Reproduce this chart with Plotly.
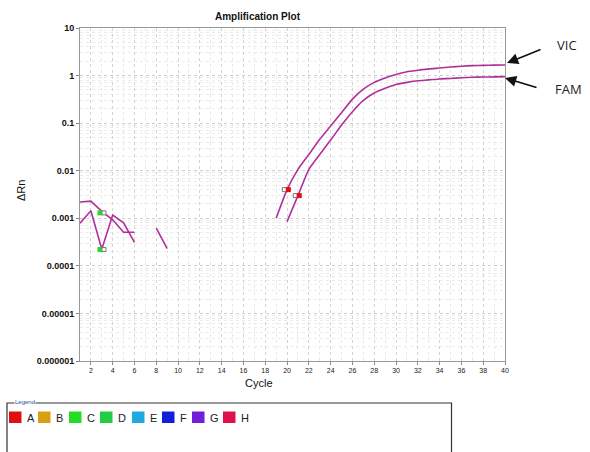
import plotly.graph_objects as go

# ---------------- data ----------------
vic_cycles = list(range(19, 41))
vic_values = [0.001, 0.004, 0.0107, 0.022, 0.046, 0.087, 0.166, 0.32, 0.52, 0.72, 0.89,
              1.05, 1.2, 1.29, 1.38, 1.44, 1.51, 1.57, 1.62, 1.64, 1.66, 1.67]

fam_cycles = list(range(20, 41))
fam_values = [0.00085, 0.003, 0.0107, 0.022, 0.044, 0.091, 0.174, 0.30, 0.43, 0.54, 0.65,
              0.72, 0.78, 0.81, 0.85, 0.87, 0.90, 0.92, 0.93, 0.94, 0.95]

noise1_cycles = [1, 2, 3, 4, 5, 6]
noise1_values = [0.0022, 0.0023, 0.0014, 0.00093, 0.00051, 0.00051]
noise2_cycles = [1, 2, 3, 4, 5, 6]
noise2_values = [0.00079, 0.00144, 0.000224, 0.00117, 0.00080, 0.00031]
noise3_cycles = [8, 9]
noise3_values = [0.00062, 0.00023]

green_ct_cycles = [3, 3]
green_ct_values = [0.0013, 0.00022]
red_ct_cycles = [20, 21]
red_ct_values = [0.004, 0.003]

x_ticks = list(range(2, 41, 2))
y_tickvals = [10, 1, 0.1, 0.01, 0.001, 0.0001, 0.00001, 0.000001]
y_ticktext = ["10", "1", "0.1", "0.01", "0.001", "0.0001", "0.00001", "0.000001"]

legend_labels = ["A", "B", "C", "D", "E", "F", "G", "H"]
legend_colors = ["#e01010", "#d8a010", "#22dd22", "#22cc44", "#20a8e0", "#1020d8", "#7020d8", "#e0104a"]

# ---------------- layout helpers ----------------
W, H = 590, 452
L, R, T, B = 80, 505, 28, 361
def px(x):
    return (x - L) / (R - L)
def py(y):
    return (B - y) / (B - T)

LINE = "#b0309a"
FONT = "Liberation Sans, Arial, sans-serif"

fig = go.Figure()

for xs, ys in [(noise1_cycles, noise1_values), (noise2_cycles, noise2_values),
               (noise3_cycles, noise3_values)]:
    fig.add_trace(go.Scatter(x=xs, y=ys, mode="lines", line=dict(color=LINE, width=1.6),
                             hoverinfo="skip", showlegend=False))
for xs, ys in [(vic_cycles, vic_values), (fam_cycles, fam_values)]:
    fig.add_trace(go.Scatter(x=xs, y=ys, mode="lines",
                             line=dict(color=LINE, width=1.6, shape="spline", smoothing=0.5),
                             hoverinfo="skip", showlegend=False))

# Ct markers: coloured square with small white square beside it
fig.add_trace(go.Scatter(x=[c - 0.17 for c in green_ct_cycles], y=green_ct_values, mode="markers",
                         marker=dict(symbol="square", size=5, color="#22dd22", line=dict(width=0)),
                         showlegend=False, hoverinfo="skip"))
fig.add_trace(go.Scatter(x=[c + 0.2 for c in green_ct_cycles], y=green_ct_values, mode="markers",
                         marker=dict(symbol="square", size=4, color="white", line=dict(width=1, color="#777")),
                         showlegend=False, hoverinfo="skip"))
fig.add_trace(go.Scatter(x=[c - 0.25 for c in red_ct_cycles], y=red_ct_values, mode="markers",
                         marker=dict(symbol="square", size=4, color="white", line=dict(width=1, color="#777")),
                         showlegend=False, hoverinfo="skip"))
fig.add_trace(go.Scatter(x=[c + 0.12 for c in red_ct_cycles], y=red_ct_values, mode="markers",
                         marker=dict(symbol="square", size=5, color="#e01010", line=dict(width=0)),
                         showlegend=False, hoverinfo="skip"))

fig.update_layout(
    width=W, height=H,
    margin=dict(l=L, r=W - R, t=T, b=H - B),
    paper_bgcolor="white", plot_bgcolor="white",
    font=dict(family=FONT, color="#111"),
    xaxis=dict(range=[1, 40], tickvals=x_ticks, tickfont=dict(size=7, family=FONT, color="#222"),
               ticks="outside", ticklen=3, tickcolor="#888",
               showline=True, linecolor="#999", linewidth=1, mirror=True,
               showgrid=True, gridcolor="#d4d4d4", griddash="dot", gridwidth=1,
               minor=dict(dtick=1, showgrid=True, gridcolor="#e8e8e8", griddash="dot"),
               zeroline=False),
    yaxis=dict(type="log", range=[-6, 1], tickvals=y_tickvals, ticktext=y_ticktext,
               tickfont=dict(size=9, family="Liberation Sans, Arial", color="#111", weight="bold"),
               ticks="outside", ticklen=3, tickcolor="#888",
               showline=True, linecolor="#999", linewidth=1, mirror=True,
               showgrid=True, gridcolor="#cfcfcf", griddash="dot", gridwidth=1,
               minor=dict(dtick="D1", showgrid=True, gridcolor="#ececec", griddash="dot"),
               zeroline=False),
)

def label(text, x, y, size, color="#111", family=FONT, xanchor="center", **kw):
    return dict(text=text, x=px(x), y=py(y), xref="paper", yref="paper",
                xanchor=xanchor, yanchor="middle", showarrow=False,
                font=dict(size=size, family=family, color=color), **kw)

ann = []
ann.append(label("<b>Amplification Plot</b>", 258, 17, 10))
ann.append(label("Cycle", 259, 383, 11))
ann.append(label("ΔRn", 21, 191, 11, textangle=-90))
# VIC / FAM labels with arrows
ann.append(label("VIC", 567, 45, 13, color="#222", family="Open Sans, sans-serif"))
ann.append(label("FAM", 568, 89, 13, color="#222", family="Open Sans, sans-serif"))
ann.append(dict(text="", x=px(507), y=py(63), ax=35, ay=-14, xref="paper", yref="paper",
                axref="pixel", ayref="pixel", showarrow=True, arrowhead=2, arrowsize=1.4,
                arrowwidth=1.6, arrowcolor="#111"))
ann.append(dict(text="", x=px(505), y=py(78), ax=33, ay=10, xref="paper", yref="paper",
                axref="pixel", ayref="pixel", showarrow=True, arrowhead=2, arrowsize=1.4,
                arrowwidth=1.6, arrowcolor="#111"))

shapes = []
# legend box
shapes.append(dict(type="rect", xref="paper", yref="paper",
                   x0=px(7), x1=px(451.5), y0=py(470), y1=py(403),
                   line=dict(color="#333", width=1.2), fillcolor="rgba(0,0,0,0)"))
ann.append(label("Legend", 14, 402.5, 6, color="#2050a0", xanchor="left", bgcolor="white", borderpad=0))
sq_x = [9, 38, 69, 100, 132, 162, 192, 223]
for i, (lab, col) in enumerate(zip(legend_labels, legend_colors)):
    x0 = sq_x[i]
    shapes.append(dict(type="rect", xref="paper", yref="paper",
                       x0=px(x0), x1=px(x0 + 12.5), y0=py(423), y1=py(411.5),
                       line=dict(width=0), fillcolor=col))
    ann.append(label(lab, x0 + 16, 417.5, 11, color="#222", xanchor="left"))

fig.update_layout(annotations=ann, shapes=shapes)
fig.write_html("out.html", config={"displayModeBar": False},
               post_script="document.body.style.margin='0';document.body.style.overflow='hidden';")
